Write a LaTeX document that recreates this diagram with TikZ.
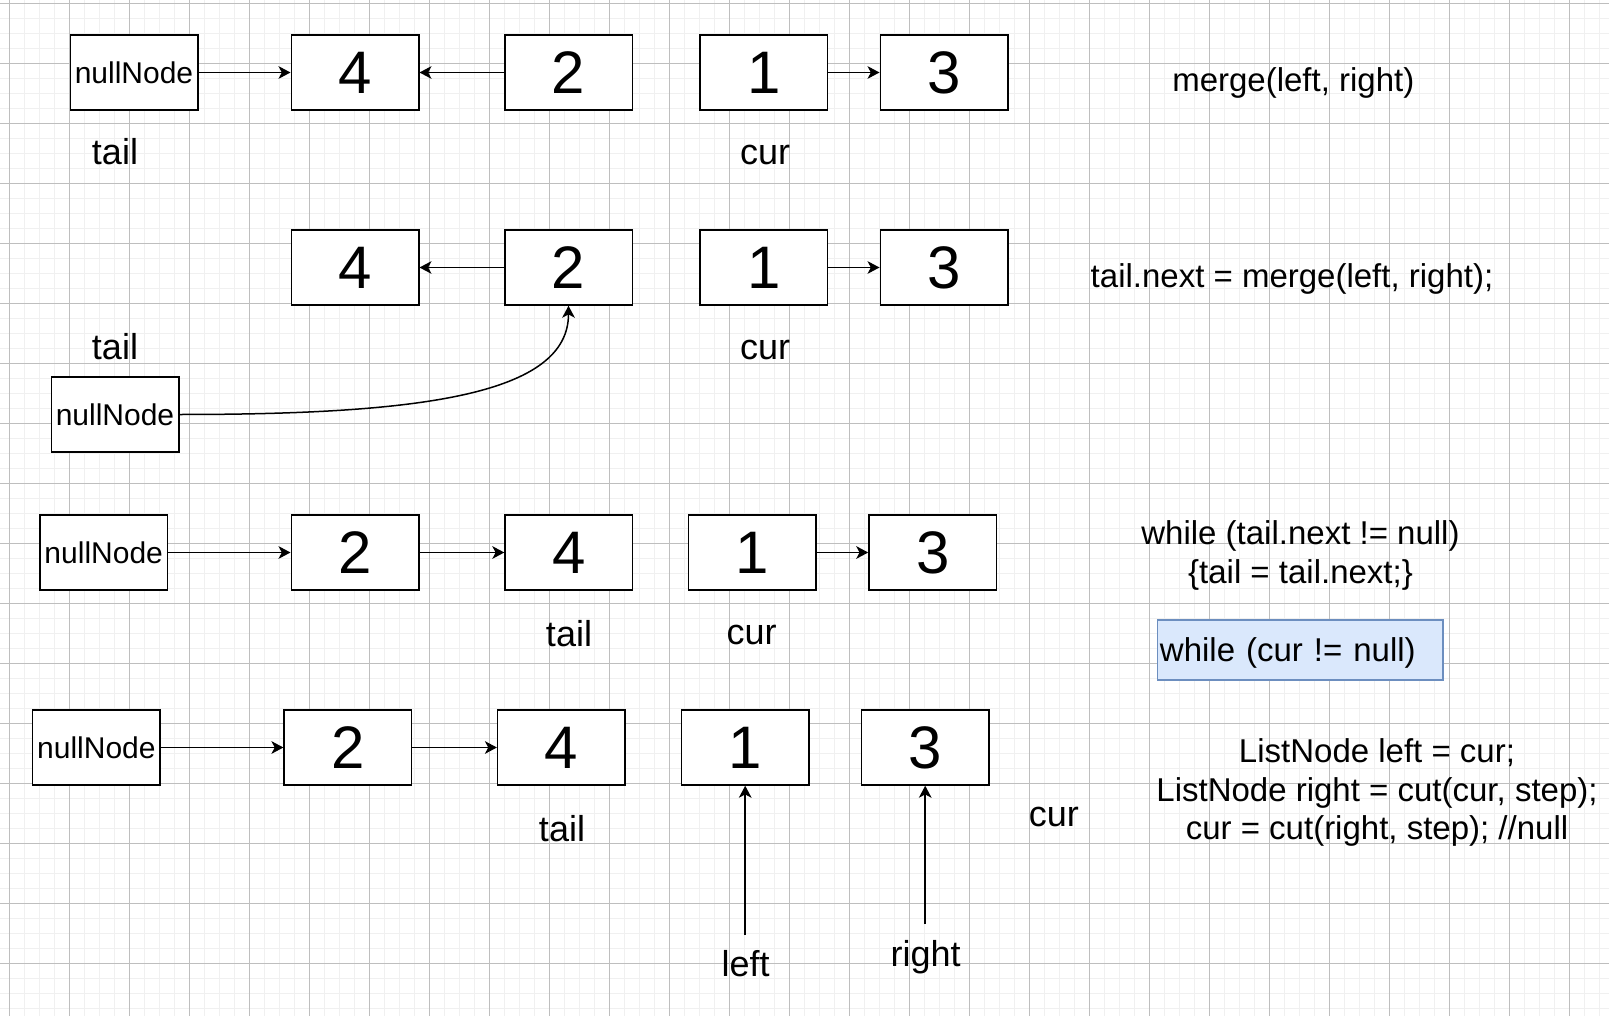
\documentclass[tikz,border=0pt]{standalone}
\usepackage{fontspec}
\setmainfont{Liberation Sans}
\usetikzlibrary{arrows.meta}
\definecolor{gridmajor}{RGB}{190,190,190}
\definecolor{gridminor}{RGB}{240,240,240}
\definecolor{blfill}{HTML}{DAE8FC}
\definecolor{bldraw}{HTML}{6C8EBF}
\begin{document}
\begin{tikzpicture}[x=0.75pt,y=-0.75pt,
  cell/.style={draw=black, line width=1.125pt, fill=white, minimum width=95.625pt, minimum height=56.25pt, inner sep=0pt, font=\fontsize{45}{54}\selectfont},
  nullbox/.style={cell, font=\fontsize{22.5}{27}\selectfont},
  lbl/.style={inner sep=0pt, anchor=base, font=\fontsize{27}{32}\selectfont},
  code/.style={inner sep=0pt, anchor=base, align=center, font=\fontsize{24.75}{28.8}\selectfont},
  link/.style={draw=black, line width=1.125pt, -{Stealth[length=9pt,width=9.5pt,inset=2.5pt]}},
]
\useasboundingbox (0,0) rectangle (1609,1016);
\fill[white] (0,0) rectangle (1609,1016);
\begin{scope}
\clip (0,0) rectangle (1609,1016);
\foreach \i in {0,...,107} \draw[gridminor, line width=1.1pt] ({9.3+15*\i},0) -- ({9.3+15*\i},1016);
\foreach \j in {0,...,67} \draw[gridminor, line width=1.1pt] (0,{3.3+15*\j}) -- (1609,{3.3+15*\j});
\foreach \i in {0,...,26} \draw[gridmajor, line width=0.75pt] ({9.3+60*\i},0) -- ({9.3+60*\i},1016);
\foreach \j in {0,...,16} \draw[gridmajor, line width=0.75pt] (0,{3.3+60*\j}) -- (1609,{3.3+60*\j});
\end{scope}

% Row 1
\node[nullbox] (n1) at (134,72.5) {nullNode};
\node[cell] (a1) at (355,72.5) {4};
\node[cell] (b1) at (568.5,72.5) {2};
\node[cell] (c1) at (763.8,72.5) {1};
\node[cell] (d1) at (944,72.5) {3};
\node[lbl] (t1) at (115,164.3) {tail};
\node[lbl] (u1) at (765,164.3) {cur};
\node[code] (m1) at (1293.3,92) {merge(left, right)};
\draw[link] (n1) -- (a1);
\draw[link] (b1) -- (a1);
\draw[link] (c1) -- (d1);

% Row 2
\node[cell] (a2) at (355,267.5) {4};
\node[cell] (b2) at (568.5,267.5) {2};
\node[cell] (c2) at (763.8,267.5) {1};
\node[cell] (d2) at (944,267.5) {3};
\node[nullbox] (n2) at (115,414.5) {nullNode};
\node[lbl] (t2) at (115,359.3) {tail};
\node[lbl] (u2) at (765,359.3) {cur};
\node[code] (m2) at (1292,287) {tail.next = merge(left, right);};
\draw[link] (b2) -- (a2);
\draw[link] (c2) -- (d2);
\draw[link] (n2.east) .. controls (420,414.5) and (568.5,395) .. (b2.south);

% Row 3
\node[nullbox] (n3) at (103.7,552.5) {nullNode};
\node[cell] (a3) at (355,552.5) {2};
\node[cell] (b3) at (568.8,552.5) {4};
\node[cell] (c3) at (752.3,552.5) {1};
\node[cell] (d3) at (932.7,552.5) {3};
\node[lbl] (t3) at (569,646.7) {tail};
\node[lbl] (u3) at (751.5,644) {cur};
\node[code] (w3) at (1300.5,583) {while (tail.next != null)\\\{tail = tail.next;\}};
\node[draw=bldraw, fill=blfill, line width=1.125pt, minimum height=45pt, text width=210.6pt, text height=22.5pt, text depth=5.2pt, inner xsep=1.7pt, inner ysep=0pt, align=left, font=\fontsize{24.75}{28.8}\selectfont] (wb) at (1300.35,650) {while (cur != null)};
\draw[link] (n3) -- (a3);
\draw[link] (a3) -- (b3);
\draw[link] (c3) -- (d3);

% Row 4
\node[nullbox] (n4) at (96.4,747.5) {nullNode};
\node[cell] (a4) at (347.9,747.5) {2};
\node[cell] (b4) at (561.4,747.5) {4};
\node[cell] (c4) at (745.2,747.5) {1};
\node[cell] (d4) at (925.2,747.5) {3};
\node[lbl] (t4) at (562,841.7) {tail};
\node[lbl] (u4) at (1053.8,826.7) {cur};
\node[code] (k4) at (1377,839.5) {ListNode left = cur;\\ListNode right = cut(cur, step);\\cur = cut(right, step); //null};
\node[lbl] (lf) at (745.7,976.7) {left};
\node[lbl] (rt) at (925.7,966) {right};
\coordinate (ls) at (745.2,935);
\coordinate (rs) at (925.2,924);
\draw[link] (n4) -- (a4);
\draw[link] (a4) -- (b4);
\draw[link] (ls) -- (c4);
\draw[link] (rs) -- (d4);
\end{tikzpicture}
\end{document}
